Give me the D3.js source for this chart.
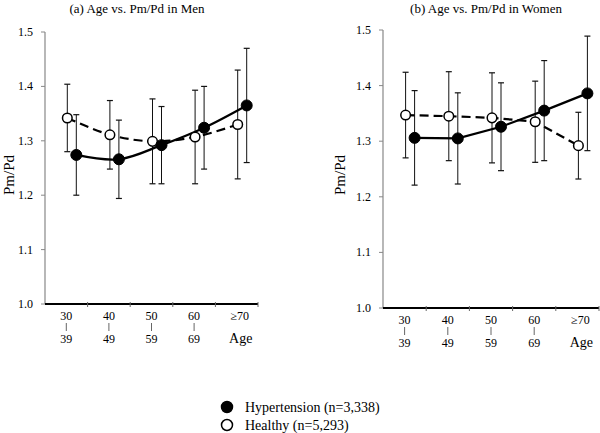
<!DOCTYPE html>
<html>
<head>
<meta charset="utf-8">
<script src="https://cdn.jsdelivr.net/npm/d3@7"></script>
<style>
  body { margin: 0; background: #fff; }
  svg { display: block; font-family: "Liberation Serif", "Times New Roman", serif; }
</style>
</head>
<body>
<div id="vis"></div>
<script>
// age groups and tick labels
const ageGroups = ["30-39", "40-49", "50-59", "60-69", "70+"];
const tickTop = ["30", "40", "50", "60", "\u226570"];
const tickBottom = ["39", "49", "59", "69", "Age"];
const yTicks = [1.0, 1.1, 1.2, 1.3, 1.4, 1.5];

// men (mean, sd)
const menHyperMean = [1.274, 1.266, 1.292, 1.324, 1.365];
const menHyperSD = [0.074, 0.072, 0.071, 0.076, 0.105];
const menHealthyMean = [1.342, 1.311, 1.299, 1.307, 1.330];
const menHealthySD = [0.062, 0.063, 0.078, 0.086, 0.100];

// women (mean, sd)
const womenHyperMean = [1.306, 1.305, 1.326, 1.355, 1.386];
const womenHyperSD = [0.085, 0.082, 0.079, 0.090, 0.103];
const womenHealthyMean = [1.347, 1.345, 1.342, 1.335, 1.292];
const womenHealthySD = [0.077, 0.080, 0.081, 0.073, 0.060];

const legendLabels = ["Hypertension (n=3,338)", "Healthy (n=5,293)"];

let svg = d3.select('#vis')
  .append('svg')
  .attr('width', 600)
  .attr('height', 433);

function drawPanel(opt) {
  let x = d3.scaleBand().domain(ageGroups).range([opt.x0, opt.x1]);
  let y = d3.scaleLinear().domain([1.0, 1.5]).range([opt.y0, opt.y1]);
  let g = svg.append('g');

  // title
  g.append('text')
    .attr('x', opt.titleX)
    .attr('y', 13)
    .attr('text-anchor', 'middle')
    .style('font-size', '13px')
    .text(opt.title);

  // y axis
  g.append('line')
    .attr('x1', opt.x0).attr('x2', opt.x0)
    .attr('y1', y(1.5)).attr('y2', y(1.0))
    .attr('stroke', '#888').attr('stroke-width', 1.2);
  g.selectAll('.ytick').data(yTicks).join('line')
    .attr('x1', opt.x0 - 4).attr('x2', opt.x0)
    .attr('y1', d => y(d)).attr('y2', d => y(d))
    .attr('stroke', '#888');
  g.selectAll('.ylab').data(yTicks).join('text')
    .attr('x', opt.x0 - 12)
    .attr('y', d => y(d) + 4)
    .attr('text-anchor', 'end')
    .style('font-size', '12px')
    .text(d => d3.format('.1f')(d));

  g.append('text')
    .attr('transform', 'translate(' + opt.labelX + ',175) rotate(-90)')
    .attr('text-anchor', 'middle')
    .style('font-size', '15px')
    .text('Pm/Pd');

  // x axis
  g.append('line')
    .attr('x1', opt.x0).attr('x2', opt.x1)
    .attr('y1', y(1.0)).attr('y2', y(1.0))
    .attr('stroke', '#000').attr('stroke-width', 2);
  g.selectAll('.xtick').data(ageGroups).join('line')
    .attr('x1', d => x(d) + x.bandwidth()).attr('x2', d => x(d) + x.bandwidth())
    .attr('y1', y(1.0) - 2).attr('y2', y(1.0) + 3)
    .attr('stroke', '#666');
  g.selectAll('.xtop').data(ageGroups).join('text')
    .attr('x', (d, i) => x(d) + x.bandwidth() / 2 + (i == 4 ? 3 : 0))
    .attr('y', y(1.0) + 16)
    .attr('text-anchor', 'middle')
    .style('font-size', '12px')
    .text((d, i) => tickTop[i]);
  g.selectAll('.xbar').data(ageGroups.slice(0, 4)).join('line')
    .attr('x1', d => x(d) + x.bandwidth() / 2).attr('x2', d => x(d) + x.bandwidth() / 2)
    .attr('y1', y(1.0) + 19).attr('y2', y(1.0) + 27)
    .attr('stroke', '#666');
  g.selectAll('.xbot').data(ageGroups).join('text')
    .attr('x', (d, i) => x(d) + x.bandwidth() / 2 + (i == 4 ? 4 : 0))
    .attr('y', y(1.0) + 39)
    .attr('text-anchor', 'middle')
    .style('font-size', (d, i) => i == 4 ? '14px' : '12px')
    .text((d, i) => tickBottom[i]);

  let series = [
    { mean: opt.healthyMean, sd: opt.healthySD, dx: 1, filled: false, dash: '9,5' },
    { mean: opt.hyperMean, sd: opt.hyperSD, dx: 10, filled: true, dash: null }
  ];

  series.forEach(s => {
    let px = (d, i) => x(ageGroups[i]) + x.bandwidth() / 2 + s.dx;
    // error bars
    g.selectAll(null).data(s.mean).join('line')
      .attr('x1', px).attr('x2', px)
      .attr('y1', (d, i) => y(d + s.sd[i])).attr('y2', (d, i) => y(d - s.sd[i]))
      .attr('stroke', '#111').attr('stroke-width', 1);
    [1, -1].forEach(sign => {
      g.selectAll(null).data(s.mean).join('line')
        .attr('x1', (d, i) => px(d, i) - 3).attr('x2', (d, i) => px(d, i) + 3)
        .attr('y1', (d, i) => y(d + sign * s.sd[i])).attr('y2', (d, i) => y(d + sign * s.sd[i]))
        .attr('stroke', '#111').attr('stroke-width', 1.2);
    });
  });

  series.forEach(s => {
    let px = (d, i) => x(ageGroups[i]) + x.bandwidth() / 2 + s.dx;
    let line = d3.line()
      .x(px)
      .y(d => y(d))
      .curve(opt.curve);
    g.append('path')
      .datum(s.mean)
      .attr('d', line)
      .attr('fill', 'none')
      .attr('stroke', '#000')
      .attr('stroke-width', 2.2)
      .attr('stroke-dasharray', s.dash);
  });

  series.forEach(s => {
    let px = (d, i) => x(ageGroups[i]) + x.bandwidth() / 2 + s.dx;
    g.selectAll(null).data(s.mean).join('circle')
      .attr('cx', px)
      .attr('cy', d => y(d))
      .attr('r', s.filled ? 5.5 : 4.8)
      .attr('fill', s.filled ? '#000' : '#fff')
      .attr('stroke', '#000')
      .attr('stroke-width', s.filled ? 1 : 1.5);
  });
}

drawPanel({
  title: '(a) Age vs. Pm/Pd in Men', titleX: 137, labelX: 14,
  x0: 45, x1: 258, y0: 304, y1: 32,
  hyperMean: menHyperMean, hyperSD: menHyperSD,
  healthyMean: menHealthyMean, healthySD: menHealthySD,
  curve: d3.curveCatmullRom.alpha(0.5)
});

drawPanel({
  title: '(b) Age vs. Pm/Pd in Women', titleX: 486, labelX: 345,
  x0: 383, x1: 599, y0: 308, y1: 30,
  hyperMean: womenHyperMean, hyperSD: womenHyperSD,
  healthyMean: womenHealthyMean, healthySD: womenHealthySD,
  curve: d3.curveLinear
});

// legend
let legend = svg.append('g');
legend.selectAll('circle').data(legendLabels).join('circle')
  .attr('cx', 227)
  .attr('cy', (d, i) => 407 + i * 18)
  .attr('r', 5.5)
  .attr('fill', (d, i) => i == 0 ? '#000' : '#fff')
  .attr('stroke', '#000')
  .attr('stroke-width', 1.5);
legend.selectAll('text').data(legendLabels).join('text')
  .attr('x', 245)
  .attr('y', (d, i) => 412 + i * 18)
  .style('font-size', '14px')
  .text(d => d);
</script>
</body>
</html>
